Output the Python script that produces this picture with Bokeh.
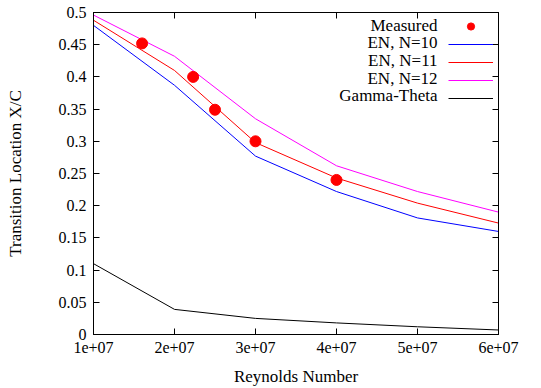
from bokeh.plotting import figure
from bokeh.models import Range1d, LinearAxis, Legend, LegendItem, Label, FixedTicker
from bokeh.core.properties import value
from bokeh.embed import file_html
from bokeh.resources import INLINE

reynolds = [1e7, 2e7, 3e7, 4e7, 5e7, 6e7]
en_n10 = [0.480, 0.387, 0.277, 0.222, 0.181, 0.160]
en_n11 = [0.488, 0.410, 0.298, 0.243, 0.204, 0.173]
en_n12 = [0.496, 0.432, 0.335, 0.262, 0.222, 0.190]
gamma_theta = [0.110, 0.039, 0.025, 0.018, 0.012, 0.007]

measured_re = [1.6e7, 2.23e7, 2.5e7, 3.0e7, 4.0e7]
measured_xc = [0.452, 0.400, 0.349, 0.300, 0.240]

x_ticks = [1e7, 2e7, 3e7, 4e7, 5e7, 6e7]
x_tick_labels = ["1e+07", "2e+07", "3e+07", "4e+07", "5e+07", "6e+07"]
y_ticks = [0, 0.05, 0.1, 0.15, 0.2, 0.25, 0.3, 0.35, 0.4, 0.45, 0.5]
y_tick_labels = ["0", "0.05", "0.1", "0.15", "0.2", "0.25", "0.3", "0.35", "0.4", "0.45", "0.5"]

legend_labels = ["Measured", "EN, N=10", "EN, N=11", "EN, N=12", "Gamma-Theta"]

FONT = "'Liberation Serif', 'Times New Roman', serif"
FS = "16px"
FS_LABEL = "17px"

p = figure(width=541, height=388, output_backend="svg", toolbar_location=None,
           x_range=Range1d(1e7, 6e7), y_range=Range1d(0, 0.5),
           min_border_left=93, min_border_right=43, min_border_top=12, min_border_bottom=53,
           x_axis_label="Reynolds Number", y_axis_label="Transition Location X/C")
p.xgrid.visible = False
p.ygrid.visible = False
p.outline_line_color = "black"
p.outline_line_width = 1
p.background_fill_color = "white"
p.border_fill_color = "white"

r10 = p.line(reynolds, en_n10, line_color="#0000ff", line_width=1)
r11 = p.line(reynolds, en_n11, line_color="#ff0000", line_width=1)
r12 = p.line(reynolds, en_n12, line_color="#ff00ff", line_width=1)
rg = p.line(reynolds, gamma_theta, line_color="black", line_width=1)
rm = p.scatter(measured_re, measured_xc, size=11, fill_color="#ff0000", line_color="#ff0000")

xt = FixedTicker(ticks=x_ticks, minor_ticks=[])
yt = FixedTicker(ticks=y_ticks, minor_ticks=[])

def style_axis(ax, ticker, labels, show_labels=True):
    ax.ticker = ticker
    ax.major_tick_in = 6
    ax.major_tick_out = 0
    ax.minor_tick_in = 0
    ax.minor_tick_out = 0
    ax.axis_line_color = "black"
    ax.major_tick_line_color = "black"
    ax.major_label_text_font = FONT
    ax.major_label_text_font_size = FS
    ax.major_label_text_color = "black"
    ax.axis_label_text_font = FONT
    ax.axis_label_text_font_size = FS_LABEL
    ax.axis_label_text_font_style = "normal"
    ax.axis_label_text_color = "black"
    if show_labels:
        ax.major_label_overrides = {t: l for t, l in zip(ticker.ticks, labels)}
    else:
        ax.major_label_overrides = {t: "" for t in ticker.ticks}

style_axis(p.xaxis[0], xt, x_tick_labels)
style_axis(p.yaxis[0], yt, y_tick_labels)
p.xaxis[0].major_label_standoff = 7
p.xaxis[0].axis_label_standoff = 11
p.yaxis[0].major_label_standoff = 7
p.yaxis[0].axis_label_standoff = 31

top_ax = LinearAxis()
style_axis(top_ax, FixedTicker(ticks=x_ticks, minor_ticks=[]), x_tick_labels, show_labels=False)
top_ax.major_label_standoff = 0
p.add_layout(top_ax, "above")
right_ax = LinearAxis()
style_axis(right_ax, FixedTicker(ticks=y_ticks, minor_ticks=[]), y_tick_labels, show_labels=False)
right_ax.major_label_standoff = 0
p.add_layout(right_ax, "right")

legend = Legend(items=[LegendItem(label=value(""), renderers=[r]) for r in [rm, r10, r11, r12, rg]],
                location="top_right", glyph_width=45, glyph_height=18, label_height=18,
                label_width=0, label_standoff=0, padding=0, spacing=0, margin=5,
                border_line_color=None, background_fill_alpha=0)
p.add_layout(legend)

for i, txt in enumerate(legend_labels):
    p.add_layout(Label(x=344, y=309.5 - 17.7 * i, x_units="screen", y_units="screen",
                       text=txt, text_align="right", text_baseline="middle",
                       text_font=FONT, text_font_size=FS_LABEL, text_color="black"))

open("out.html", "w").write(file_html(p, INLINE))
